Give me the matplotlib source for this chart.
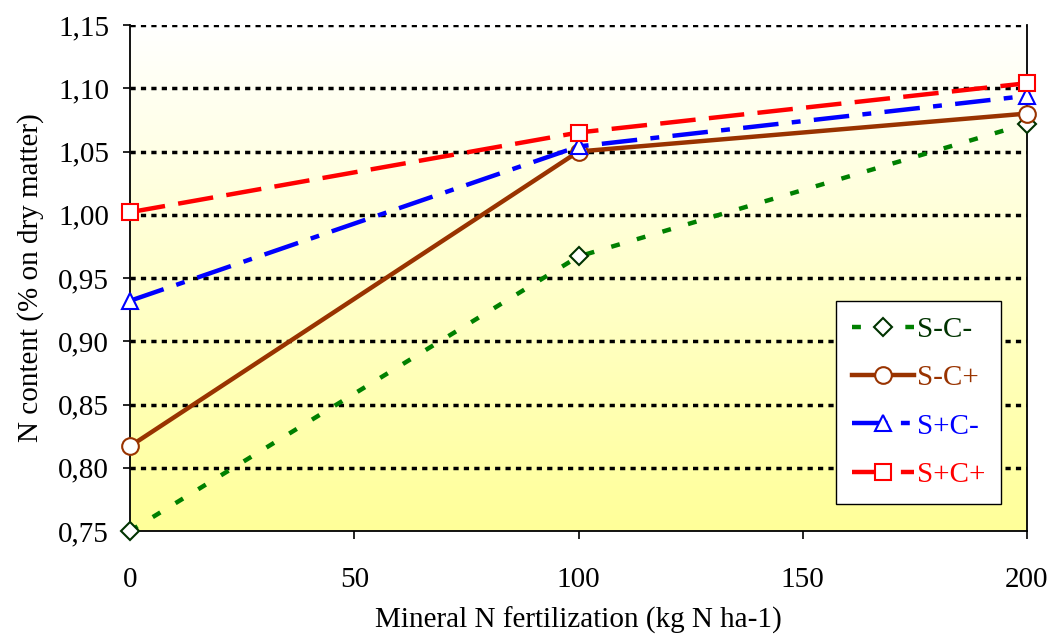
import numpy as np
import matplotlib
matplotlib.use("Agg")
import matplotlib.pyplot as plt
from matplotlib.colors import LinearSegmentedColormap

x_vals = [0, 100, 200]
s_c_minus = [0.750, 0.967, 1.072]
s_c_plus = [0.817, 1.050, 1.080]
s_p_c_minus = [0.932, 1.054, 1.094]
s_p_c_plus = [1.002, 1.065, 1.104]
x_ticks = [0, 50, 100, 150, 200]
y_ticks = [0.75, 0.80, 0.85, 0.90, 0.95, 1.00, 1.05, 1.10, 1.15]

plt.rcParams['font.family'] = ['Liberation Serif', 'DejaVu Serif']

fig = plt.figure(figsize=(10.5, 6.42), dpi=100)
ax = fig.add_axes([130/1050, 1 - 531/642, (1027-130)/1050, (531-25)/642])

cmap = LinearSegmentedColormap.from_list('bg', ['#FFFF99', '#FFFFFF'])
grad = np.linspace(0, 1, 256).reshape(-1, 1)
ax.imshow(grad, aspect='auto', cmap=cmap, origin='lower',
          extent=[0, 1, 0, 1], transform=ax.transAxes, zorder=0)

ax.set_xlim(0, 200)
ax.set_ylim(0.75, 1.15)

for yv in y_ticks[1:]:
    ax.axhline(yv, color='black', linestyle=(0, (1.5, 1.5)), linewidth=2.5, zorder=1)

lw = 3.2
ms = 12
ax.plot(x_vals, s_c_minus, color='#008000', linestyle=(0, (2, 4)), linewidth=lw,
        marker='D', markersize=9, markerfacecolor='white', markeredgecolor='#003300',
        markeredgewidth=1.5, label='S-C-', zorder=3, clip_on=False)
ax.plot(x_vals, s_c_plus, color='#993300', linestyle='-', linewidth=lw,
        marker='o', markersize=ms, markerfacecolor='white', markeredgecolor='#993300',
        markeredgewidth=1.5, label='S-C+', zorder=3, clip_on=False)
ax.plot(x_vals, s_p_c_minus, color='#0000FF', linestyle=(0, (8, 3, 2, 3)), linewidth=lw,
        marker='^', markersize=ms, markerfacecolor='white', markeredgecolor='#0000FF',
        markeredgewidth=1.5, label='S+C-', zorder=4, clip_on=False)
ax.plot(x_vals, s_p_c_plus, color='#FF0000', linestyle=(0, (8, 3)), linewidth=lw,
        marker='s', markersize=ms, markerfacecolor='white', markeredgecolor='#FF0000',
        markeredgewidth=1.5, label='S+C+', zorder=5, clip_on=False)

ax.set_xticks(x_ticks)
ax.set_yticks(y_ticks)
ax.set_yticklabels([f"{v:.2f}".replace('.', ',') for v in y_ticks])
ax.tick_params(axis='both', labelsize=21, direction='out', width=1.2, colors='black')
ax.tick_params(axis='x', length=6, pad=20)
ax.tick_params(axis='y', length=5, pad=10)

ax.spines['top'].set_visible(False)
for side in ['left', 'bottom', 'right']:
    ax.spines[side].set_linewidth(1.3)
    ax.spines[side].set_color('black')

ax.set_xlabel('Mineral N fertilization (kg N ha-1)', fontsize=21, labelpad=10)
ax.set_ylabel('N content (% on dry matter)', fontsize=21, labelpad=10)

leg = ax.legend(loc='lower right', bbox_to_anchor=(1001/1050, 1 - 504/642),
                bbox_transform=fig.transFigure, fontsize=21, frameon=True,
                fancybox=False, edgecolor='black', framealpha=1, facecolor='white',
                handlelength=2.1, labelspacing=0.75, borderpad=0.55, handletextpad=0.1,
                borderaxespad=0)
leg.get_frame().set_linewidth(1.0)
text_colors = ['#003300', '#993300', '#0000FF', '#FF0000']
for t, c in zip(leg.get_texts(), text_colors):
    t.set_color(c)

fig.savefig('out.png', dpi=100, facecolor='white')
